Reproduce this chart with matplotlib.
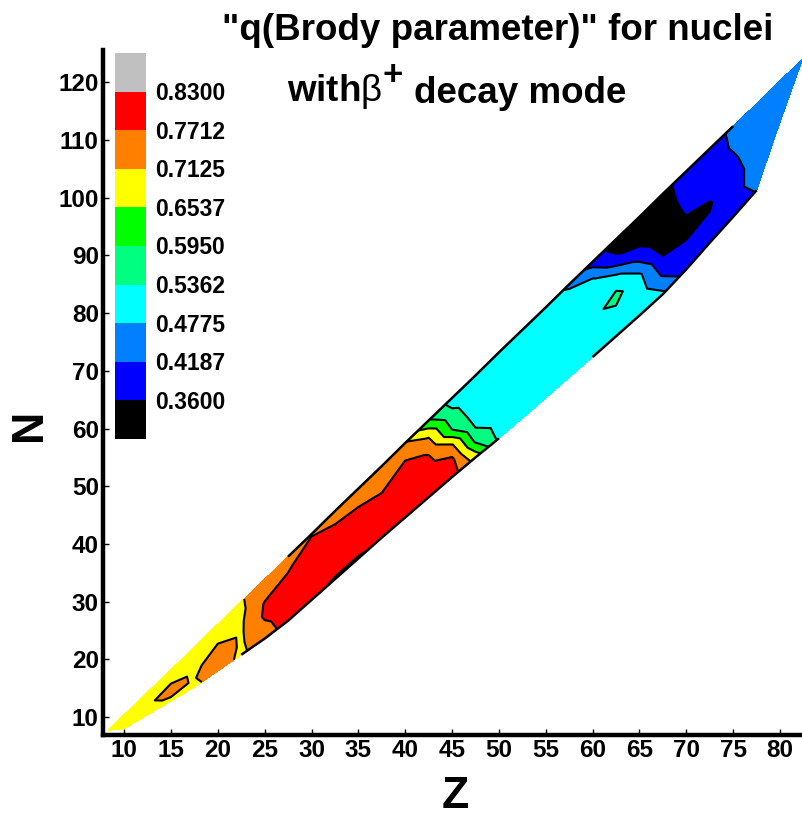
import numpy as np
import matplotlib
matplotlib.use("Agg")
import matplotlib.pyplot as plt

plt.rcParams['font.family'] = ['Liberation Sans', 'DejaVu Sans']
plt.rcParams['mathtext.fontset'] = 'custom'
plt.rcParams['mathtext.rm'] = 'Liberation Sans'
plt.rcParams['mathtext.it'] = 'Liberation Sans'
plt.rcParams['mathtext.bf'] = 'Liberation Sans:bold'

# ---- data ----
Z_cols = [8.3, 10, 12.5, 15, 17.5, 20, 22.5, 25, 27.5, 30, 32.5, 35, 37.5, 40, 42.5,
          45, 47.5, 50, 52.5, 55, 57.5, 60, 62.5, 65, 67.5, 70, 72.5, 75, 77.5, 80, 82.4]
N_low = [7.7, 8.0, 10.4, 12.8, 15.2, 18.0, 20.8, 23.6, 26.7, 30.3, 33.9, 37.5, 41.1, 44.6, 48.1,
         51.6, 55.0, 58.3, 61.8, 65.3, 68.9, 72.4, 76.0, 79.6, 83.3, 87.6, 92.2, 96.7, 101.3, 113.1, 124.0]
N_high = [7.7, 10.4, 14.3, 18.2, 22.1, 26.1, 30.0, 33.9, 37.8, 41.7, 45.7, 49.6, 53.5, 57.5, 61.4,
          65.3, 69.2, 73.2, 77.1, 81.0, 85.0, 88.9, 92.8, 96.7, 100.7, 104.6, 108.5, 112.4, 116.3, 120.3, 124.0]
t_frac = [0.0, 0.2, 0.4, 0.6, 0.8, 1.0]   # position across the band (lower edge -> upper edge)
q_by_Z = [
    [0.70, 0.70, 0.70, 0.70, 0.70, 0.70],     # 8.3
    [0.69, 0.69, 0.69, 0.69, 0.69, 0.69],     # 10
    [0.69, 0.70, 0.70, 0.69, 0.68, 0.68],     # 12.5
    [0.70, 0.72, 0.74, 0.705, 0.68, 0.68],    # 15
    [0.70, 0.71, 0.70, 0.69, 0.68, 0.68],     # 17.5
    [0.74, 0.745, 0.74, 0.71, 0.69, 0.68],    # 20
    [0.70, 0.705, 0.705, 0.705, 0.705, 0.71], # 22.5
    [0.75, 0.76, 0.78, 0.775, 0.745, 0.73],   # 25
    [0.79, 0.80, 0.80, 0.79, 0.765, 0.74],    # 27.5
    [0.785, 0.81, 0.82, 0.81, 0.80, 0.765],   # 30
    [0.765, 0.80, 0.81, 0.80, 0.772, 0.745],  # 32.5
    [0.765, 0.80, 0.81, 0.795, 0.76, 0.735],  # 35
    [0.78, 0.80, 0.80, 0.775, 0.745, 0.73],   # 37.5
    [0.80, 0.81, 0.81, 0.80, 0.765, 0.72],    # 40
    [0.80, 0.80, 0.79, 0.765, 0.705, 0.60],   # 42.5
    [0.80, 0.79, 0.72, 0.595, 0.55, 0.51],    # 45
    [0.69, 0.585, 0.525, 0.50, 0.50, 0.51],   # 47.5
    [0.52, 0.51, 0.50, 0.50, 0.50, 0.51],     # 50
    [0.51, 0.50, 0.50, 0.50, 0.50, 0.50],     # 52.5
    [0.50, 0.50, 0.50, 0.50, 0.50, 0.50],     # 55
    [0.50, 0.50, 0.50, 0.50, 0.50, 0.47],     # 57.5
    [0.51, 0.51, 0.52, 0.51, 0.49, 0.39],     # 60
    [0.50, 0.51, 0.555, 0.50, 0.37, 0.33],    # 62.5
    [0.50, 0.51, 0.49, 0.39, 0.33, 0.32],     # 65
    [0.49, 0.41, 0.355, 0.32, 0.32, 0.34],    # 67.5
    [0.39, 0.375, 0.345, 0.365, 0.39, 0.39],  # 70
    [0.39, 0.37, 0.355, 0.38, 0.39, 0.395],   # 72.5
    [0.40, 0.40, 0.40, 0.41, 0.425, 0.43],    # 75
    [0.42, 0.44, 0.44, 0.45, 0.45, 0.45],     # 77.5
    [0.45, 0.45, 0.45, 0.45, 0.45, 0.45],     # 80
    [0.45, 0.45, 0.45, 0.45, 0.45, 0.45],     # 82.4
]
level_bounds = [0.0, 0.36, 0.4187, 0.4775, 0.5362, 0.5950, 0.6537, 0.7125, 0.7712, 0.83, 1.0]
level_colors = ['#000000', '#0000FF', '#0080FF', '#00FFFF', '#00FF80',
                '#00FF00', '#FFFF00', '#FF8000', '#FF0000', '#C0C0C0']
x_ticks = list(range(10, 85, 5))
y_ticks = list(range(10, 121, 10))

# ---- figure ----
W, H = 803, 816
fig = plt.figure(figsize=(W / 100, H / 100), dpi=100)
ax = fig.add_axes([103 / W, 1 - 735 / H, 700 / W, 685 / H])

Zc = np.array(Z_cols)
lo = np.array(N_low)
hi = np.array(N_high)
tf = np.array(t_frac)
Zg = Zc[:, None] * np.ones_like(tf)[None, :]
Ng = lo[:, None] + tf[None, :] * (hi - lo)[:, None]
Q = np.array(q_by_Z)

ax.contourf(Zg, Ng, Q, levels=level_bounds, colors=level_colors)
ax.contour(Zg, Ng, Q, levels=level_bounds[1:-1], colors='k', linewidths=1.5)

# band outline where the original shows it
up_sel = (Zc >= 27.5) & (Zc <= 75)
ax.plot(Zc[up_sel], hi[up_sel], color='k', lw=1.8, solid_capstyle='butt')
lo_sel1 = (Zc >= 22.5) & (Zc <= 50)
lo_sel2 = (Zc >= 60) & (Zc <= 77.5)
ax.plot(Zc[lo_sel1], lo[lo_sel1], color='k', lw=1.8, solid_capstyle='butt')
ax.plot(Zc[lo_sel2], lo[lo_sel2], color='k', lw=1.8, solid_capstyle='butt')

ax.set_xlim(7.75, 82.45)
ax.set_ylim(6.9, 125.6)
ax.set_xticks(x_ticks)
ax.set_yticks(y_ticks)
for s in ['top', 'right']:
    ax.spines[s].set_visible(False)
for s in ['left', 'bottom']:
    ax.spines[s].set_linewidth(3.2)
ax.tick_params(direction='in', length=4, width=1, labelsize=17.5, pad=3)
for lab in ax.get_xticklabels() + ax.get_yticklabels():
    lab.set_fontweight('bold')
ax.set_facecolor('none')

fig.text(30 / W, 1 - 425 / H, 'N', fontsize=32, fontweight='bold', rotation=90,
         ha='center', va='center')
fig.text(455 / W, 1 - 796 / H, 'Z', fontsize=32, fontweight='bold', ha='center', va='center')

fig.text(498 / W, 1 - 30 / H, '"q(Brody parameter)" for nuclei', fontsize=26.5,
         fontweight='bold', ha='center', va='center')
part1 = fig.text(287 / W, 1 - 111 / H, r'$\mathbf{with}\beta$', fontsize=26.5,
                 ha='left', va='bottom')
ax.annotate('+', xy=(1, 1), xycoords=part1, xytext=(0, 9), textcoords='offset points',
            ha='left', va='top', fontsize=25, fontweight='bold', annotation_clip=False)
ax.annotate('decay mode', xy=(1, 0), xycoords=part1, xytext=(23, 0),
            textcoords='offset points', ha='left', va='bottom', fontsize=26.5,
            fontweight='bold', annotation_clip=False)

# colour key
cax = fig.add_axes([115 / W, 1 - 439 / H, 31 / W, 386 / H])
nseg = len(level_colors)
cax.bar([0.5] * nseg, [1] * nseg, width=1, bottom=list(range(nseg)), color=level_colors,
        linewidth=0)
cax.set_xlim(0, 1)
cax.set_ylim(0, nseg)
cax.axis('off')
for i, v in enumerate(level_bounds[1:-1]):
    ypix = 439 - (i + 1) * 386 / nseg
    fig.text(155 / W, 1 - (ypix + 2) / H, f'{v:.4f}', fontsize=16.5, fontweight='bold',
             ha='left', va='center')

fig.savefig('out.png', dpi=100)
